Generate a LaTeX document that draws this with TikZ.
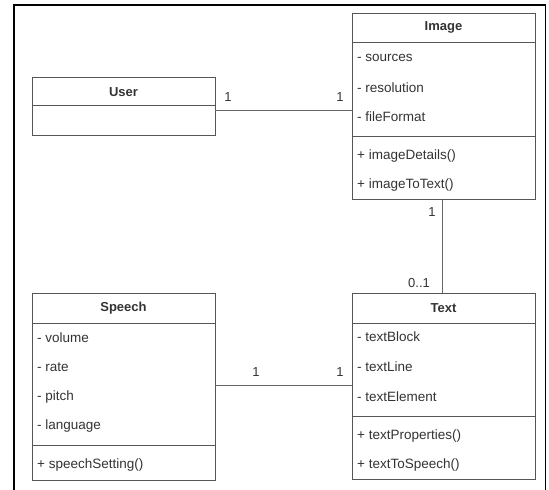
\documentclass[tikz,border=0pt]{standalone}
\usepackage{fontspec}
\setmainfont{Liberation Sans}
\definecolor{txt}{HTML}{333333}
\definecolor{boxline}{HTML}{555555}
\begin{document}
\begin{tikzpicture}[x=1pt,y=-1pt,
  classbox/.style={draw=boxline,line width=0.9pt,minimum width=#1,inner sep=0pt,outer sep=0pt},
  sep/.style={draw=boxline,line width=0.9pt},
  conn/.style={draw=boxline!90,line width=0.9pt},
  attr/.style={anchor=west,inner sep=0pt,text=txt,font=\fontsize{13.5}{15}\selectfont},
  title/.style={inner sep=0pt,text=txt,font=\fontsize{13}{15}\selectfont\bfseries},
  mult/.style={inner sep=0pt,text=txt,font=\fontsize{13}{15}\selectfont},
  frame/.style={draw=black,line width=1.6pt}]
\useasboundingbox (0,0) rectangle (549,490);
% outer frame
\draw[frame] (14,492) -- (14,5) -- (545.5,5) -- (545.5,492);

% User
\node[classbox=183pt,minimum height=58pt] (user) at (123.5,106) {};
\draw[sep] (32,105) -- (215,105);
\node[title] (usert) at (123.5,92) {User};

% Image
\node[classbox=183pt,minimum height=186pt] (image) at (443.5,106) {};
\draw[sep] (352,42) -- (535,42);
\draw[sep] (352,136) -- (535,136);
\node[title] (imaget) at (443.5,27) {Image};
\node[attr] (i1) at (357,58) {- sources};
\node[attr] (i2) at (357,88) {- resolution};
\node[attr] (i3) at (357,117) {- fileFormat};
\node[attr] (i4) at (357,156) {+ imageDetails()};
\node[attr] (i5) at (357,185) {+ imageToText()};

% Speech
\node[classbox=183pt,minimum height=187pt] (speech) at (123.5,386.5) {};
\draw[sep] (32,323) -- (215,323);
\draw[sep] (32,445) -- (215,445);
\node[title] (speecht) at (123.5,308) {Speech};
\node[attr] (s1) at (37,338) {- volume};
\node[attr] (s2) at (37,367) {- rate};
\node[attr] (s3) at (37,397) {- pitch};
\node[attr] (s4) at (37,426) {- language};
\node[attr] (s5) at (37,465) {+ speechSetting()};

% Text
\node[classbox=183pt,minimum height=186pt] (text) at (443.5,386) {};
\draw[sep] (352,323) -- (535,323);
\draw[sep] (352,416) -- (535,416);
\node[title] (textt) at (443.5,308) {Text};
\node[attr] (t1) at (357,337) {- textBlock};
\node[attr] (t2) at (357,367) {- textLine};
\node[attr] (t3) at (357,397) {- textElement};
\node[attr] (t4) at (357,436) {+ textProperties()};
\node[attr] (t5) at (357,465) {+ textToSpeech()};

% connectors
\draw[conn] (user.east |- 0,110) -- (image.west |- 0,110);
\draw[conn] (image.south -| 442,0) -- (text.north -| 442,0);
\draw[conn] (speech.east |- 0,385) -- (text.west |- 0,385);

% multiplicities
\node[mult] (m1) at (228,97) {1};
\node[mult] (m2) at (340,97) {1};
\node[mult] (m3) at (432,212) {1};
\node[mult] (m4) at (419,283) {0..1};
\node[mult] (m5) at (256,372) {1};
\node[mult] (m6) at (340,372) {1};
\end{tikzpicture}
\end{document}
